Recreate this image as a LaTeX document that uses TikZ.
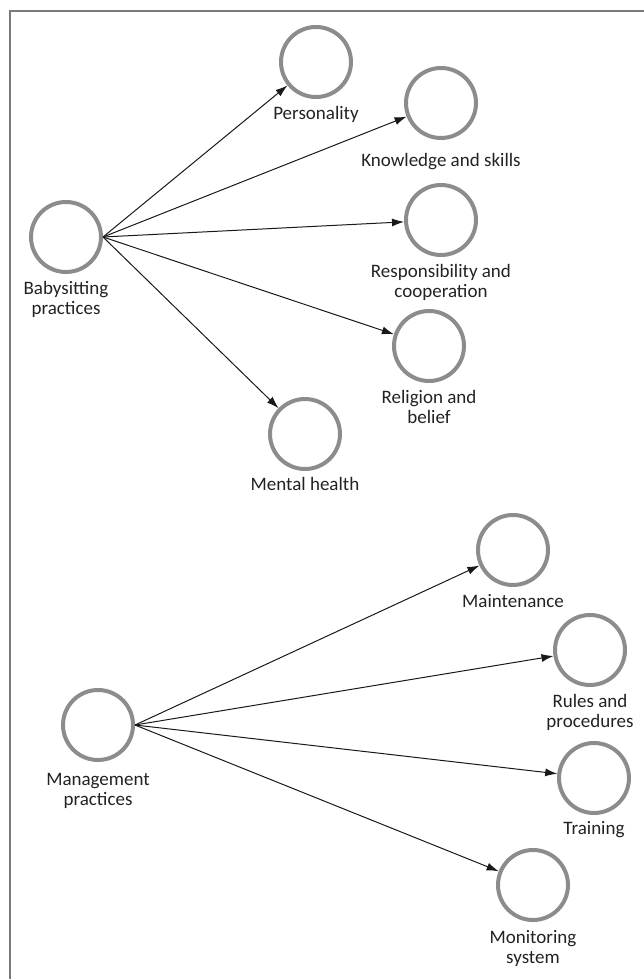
\documentclass[tikz,border=0pt]{standalone}
\usepackage{fontspec}
\setmainfont{Carlito}
\usetikzlibrary{arrows.meta}
\definecolor{ringgray}{HTML}{8C8C8C}
\definecolor{framegray}{HTML}{7A7A7A}
\definecolor{txt}{HTML}{222222}
\tikzset{
  ring/.style={circle, draw=ringgray, line width=4pt, minimum size=70pt, inner sep=0pt},
  lbl/.style={anchor=north, align=center, inner sep=0pt, text=txt, font=\fontsize{19pt}{20.5pt}\selectfont},
  arr/.style={line width=1pt, draw=black!90, -{Latex[length=12pt,width=8pt]}},
  frame/.style={draw=framegray, line width=1.5pt}
}
\begin{document}
\begin{tikzpicture}[x=1pt,y=-1pt]
\useasboundingbox (0,0) rectangle (643,979);
\coordinate (fbl) at (10,981);
\coordinate (ftl) at (10,11);
\coordinate (ftr) at (645,11);
\draw[frame] (fbl) -- (ftl) -- (ftr);

% Babysitting cluster
\node[ring] (bab) at (66,237) {};
\node[ring] (pers) at (316,62) {};
\node[ring] (know) at (441,103) {};
\node[ring] (resp) at (441,220) {};
\node[ring] (reli) at (429,346) {};
\node[ring] (ment) at (305,434) {};

\node[lbl] (babl) at (66,281) {Babysitting\\practices};
\node[lbl] (persl) at (316,106) {Personality};
\node[lbl] (knowl) at (441,153) {Knowledge and skills};
\node[lbl] (respl) at (441,264) {Responsibility and\\cooperation};
\node[lbl] (relil) at (429,390) {Religion and\\belief};
\node[lbl] (mentl) at (305,477) {Mental health};

\draw[arr] (bab.east) -- (pers);
\draw[arr] (bab.east) -- (know);
\draw[arr] (bab.east) -- (resp);
\draw[arr] (bab.east) -- (reli);
\draw[arr] (bab.east) -- (ment);

% Management cluster
\node[ring] (mgmt) at (98,725) {};
\node[ring] (main) at (513,550) {};
\node[ring] (rule) at (590,650) {};
\node[ring] (trai) at (594,778) {};
\node[ring] (moni) at (533,885) {};

\node[lbl] (mgmtl) at (98,773) {Management\\practices};
\node[lbl] (mainl) at (513,594) {Maintenance};
\node[lbl] (rulel) at (590,694) {Rules and\\procedures};
\node[lbl] (trail) at (594,821) {Training};
\node[lbl] (monil) at (533,930) {Monitoring\\system};

\draw[arr] (mgmt.east) -- (main);
\draw[arr] (mgmt.east) -- (rule);
\draw[arr] (mgmt.east) -- (trai);
\draw[arr] (mgmt.east) -- (moni);
\end{tikzpicture}
\end{document}
